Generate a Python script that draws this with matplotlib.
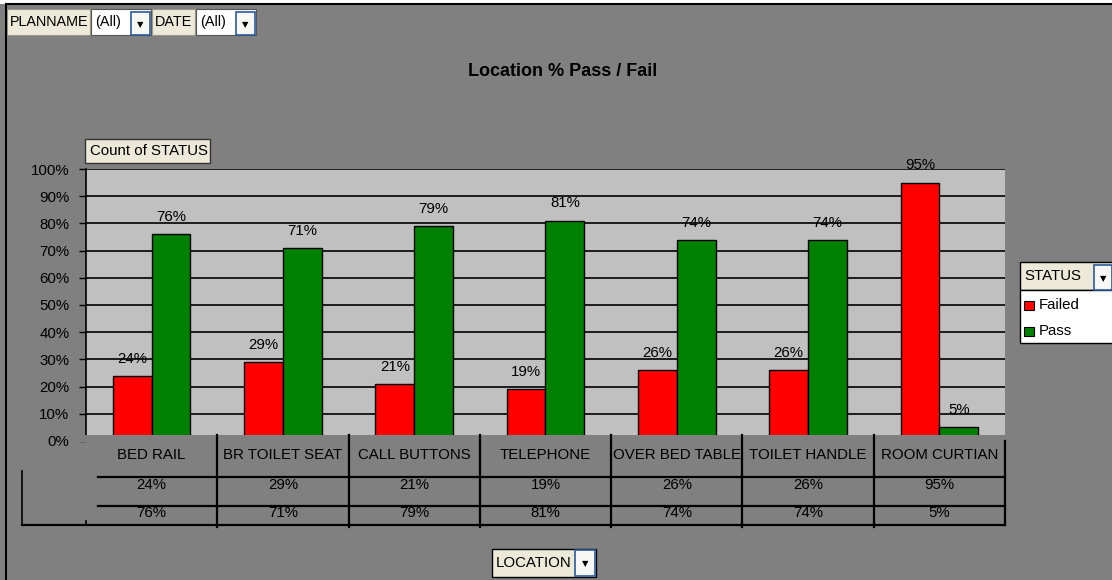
import matplotlib
matplotlib.use('Agg')
import matplotlib.pyplot as plt
from matplotlib.patches import Rectangle
from matplotlib.lines import Line2D
import matplotlib.transforms as mtransforms

plt.rcParams['font.family'] = ['Liberation Sans', 'DejaVu Sans']

locations = ['BED RAIL', 'BR TOILET SEAT', 'CALL BUTTONS', 'TELEPHONE',
             'OVER BED TABLE', 'TOILET HANDLE', 'ROOM CURTIAN']
failed = [24, 29, 21, 19, 26, 26, 95]
passed = [76, 71, 79, 81, 74, 74, 5]
y_ticks = [0, 10, 20, 30, 40, 50, 60, 70, 80, 90, 100]

W, H = 1112, 580
BG = '#808080'
PLOT_BG = '#C0C0C0'
BEIGE = '#ECE9D8'
FS = 10.8

fig = plt.figure(figsize=(W / 100, H / 100), dpi=100, facecolor=BG)


def fx(x):
    return x / W


def fy(y):
    return 1 - y / H


def box(x0, y0, x1, y1, fc, ec='black', lw=1.0, z=5):
    fig.add_artist(Rectangle((fx(x0), fy(y1)), fx(x1 - x0), (y1 - y0) / H,
                             transform=fig.transFigure, facecolor=fc,
                             edgecolor=ec, linewidth=lw, zorder=z))


def line(xs, ys, lw=1.5, color='black'):
    fig.add_artist(Line2D([fx(v) for v in xs], [fy(v) for v in ys],
                          transform=fig.transFigure, color=color, lw=lw,
                          zorder=6))


def dropdown(x0, y0, x1, y1):
    box(x0, y0, x1, y1, '#F7F7F5', ec='#2B5A9A', lw=1.2, z=6)
    fig.text(fx((x0 + x1) / 2), fy((y0 + y1) / 2 + 1), '\u25BC', fontsize=6,
             ha='center', va='center', color='black', zorder=7,
             family='DejaVu Sans')


# outer frame
box(0, 0, W, 4, 'white', ec='none', z=1)
line([6, 6], [4, H], lw=1.5)
line([6, W], [4, 4], lw=1.5)

# page filters
box(7, 9, 90, 35, BEIGE, ec='#9A9A8A', lw=0.8)
fig.text(fx(10), fy(22), 'PLANNAME', fontsize=10.4, va='center', zorder=8)
box(91, 9, 151, 35, 'white', ec='#555555', lw=0.8)
fig.text(fx(95), fy(22), '(All)', fontsize=10.4, va='center', zorder=8)
dropdown(131, 12, 150, 35)
box(152, 9, 195, 35, BEIGE, ec='#9A9A8A', lw=0.8)
fig.text(fx(155), fy(22), 'DATE', fontsize=10.4, va='center', zorder=8)
box(196, 9, 256, 35, 'white', ec='#555555', lw=0.8)
fig.text(fx(200), fy(22), '(All)', fontsize=10.4, va='center', zorder=8)
dropdown(236, 12, 255, 35)

# title
fig.text(fx(563), fy(72), 'Location % Pass / Fail', fontsize=13,
         fontweight='bold', ha='center', va='center')

# data field button
box(85, 139, 210, 163, BEIGE, ec='#333333', lw=1.0)
fig.text(fx(90), fy(151), 'Count of STATUS', fontsize=FS, va='center', zorder=8)

# plot area (bottom strip hidden behind the category row, as in the pivot chart)
x0, x1, ytop, ybot = 86, 1005, 169, 441
ax = fig.add_axes([fx(x0), fy(ybot), fx(x1 - x0), (ybot - ytop) / H])
ax.set_facecolor(PLOT_BG)
n = len(locations)
ax.set_xlim(0, n)
ax.set_ylim(0, 100)

bw = 0.295
xs = [i + 0.5 for i in range(n)]
ax.bar([x - bw / 2 for x in xs], failed, width=bw, color='#FF0000',
       edgecolor='black', linewidth=1.0, zorder=3)
ax.bar([x + bw / 2 for x in xs], passed, width=bw, color='#008000',
       edgecolor='black', linewidth=1.0, zorder=3)
for x, f, p in zip(xs, failed, passed):
    ax.annotate(f'{f}%', (x - bw / 2, f), xytext=(0, 9.5),
                textcoords='offset points', ha='center', va='baseline',
                fontsize=FS, annotation_clip=False)
    ax.annotate(f'{p}%', (x + bw / 2, p), xytext=(0, 9.5),
                textcoords='offset points', ha='center', va='baseline',
                fontsize=FS, annotation_clip=False)

ax.set_yticks(y_ticks)
ax.set_yticklabels([f'{t}%' for t in y_ticks], fontsize=FS)
ax.tick_params(axis='y', length=5, width=1, direction='out', pad=7)
ax.set_xticks([])
ax.yaxis.grid(True, color='black', linewidth=1.2, zorder=1)
ax.set_axisbelow(True)
for side in ['top', 'right', 'bottom']:
    ax.spines[side].set_visible(False)
ax.spines['left'].set_linewidth(1.2)

# cover the bottom strip of the plot with the category row
box(78, 435, 1006, 442, BG, ec='none', z=4)

# data table under the chart
tr = mtransforms.blended_transform_factory(ax.transData, fig.transFigure)
for i in range(1, n):
    fig.add_artist(Line2D([i, i], [fy(435), fy(527)], transform=tr,
                          color='black', lw=1.6, zorder=6))
fig.add_artist(Line2D([n, n], [fy(441), fy(525)], transform=tr,
                      color='black', lw=1.6, zorder=6))
line([98, 1005], [477, 477], lw=1.6)
line([98, 1005], [506, 506], lw=1.6)
line([22, 1005], [525, 525], lw=1.6)
line([22, 22], [471, 525], lw=1.2)
line([86, 86], [521, 525], lw=1.2)
for x, loc, f, p in zip(xs, locations, failed, passed):
    fig.text(x, fy(455), loc, transform=tr, ha='center', va='center',
             fontsize=FS, zorder=8)
    fig.text(x, fy(485), f'{f}%', transform=tr, ha='center', va='center',
             fontsize=FS, zorder=8)
    fig.text(x, fy(513), f'{p}%', transform=tr, ha='center', va='center',
             fontsize=FS, zorder=8)

# legend
box(1020, 262, W + 2, 290, BEIGE, ec='black', lw=1.0)
fig.text(fx(1024), fy(276), 'STATUS', fontsize=FS, va='center', zorder=8)
dropdown(1094, 265, 1112, 290)
box(1020, 290, W + 2, 343, 'white', ec='black', lw=1.0)
box(1024, 301, 1034, 310, '#FF0000', ec='black', lw=0.8, z=7)
fig.text(fx(1039), fy(305), 'Failed', fontsize=FS, va='center', zorder=8)
box(1024, 327, 1034, 336, '#008000', ec='black', lw=0.8, z=7)
fig.text(fx(1039), fy(331), 'Pass', fontsize=FS, va='center', zorder=8)

# row field button
box(492, 549, 596, 577, BEIGE, ec='black', lw=1.0)
fig.text(fx(496), fy(563), 'LOCATION', fontsize=FS, va='center', zorder=8)
dropdown(575, 550, 595, 576)

fig.savefig('out.png', dpi=100, facecolor=BG)
